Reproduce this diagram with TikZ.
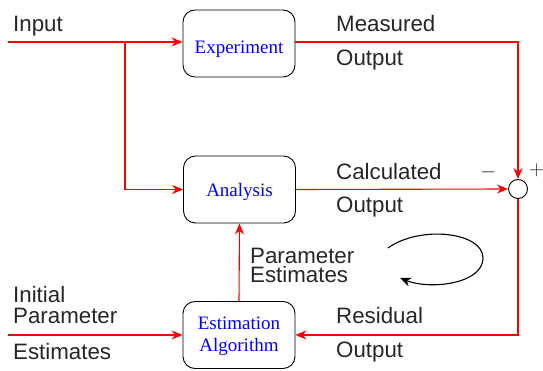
\documentclass[tikz,border=0pt]{standalone}
\usepackage{fontspec}
\setmainfont{Liberation Sans}
\newfontfamily\boxfont{Liberation Serif}
\usetikzlibrary{arrows.meta}
\begin{document}
\begin{tikzpicture}[x=1pt,y=-1pt,
  blk/.style={draw=black, line width=0.9pt, rounded corners=12pt, minimum width=112pt, minimum height=67pt, inner sep=0pt, align=center, text=blue, font=\boxfont\fontsize{19}{22}\selectfont},
  sig/.style={draw=red, line width=1.1pt, -{Stealth[length=11pt,width=9pt]}},
  lbl/.style={anchor=base west, inner sep=0pt, text=black!85, align=left, font=\fontsize{22.3}{22}\selectfont}]
\useasboundingbox (0,0) rectangle (543,371);
\node[blk] (exp) at (239,43.5) {\rule{0pt}{24pt}Experiment};
\node[blk] (ana) at (239.5,189.5) {\rule{0pt}{19pt}Analysis};
\node[blk] (est) at (239,335) {\rule{0pt}{16pt}Estimation\\Algorithm};
\node[draw=black, line width=0.9pt, circle, minimum size=19pt, inner sep=0pt, fill=white] (sum) at (518,189) {};
\coordinate (in) at (8,42);
\coordinate (br) at (125,42);
\coordinate (init) at (8,335);
\draw[sig] (in) -- (in -| exp.west);
\draw[sig] (br) |- (ana.west);
\draw[sig] (exp.east |- in) -| (sum.north);
\draw[sig] (ana.east) -- (sum.west);
\draw[sig] (sum.south) |- (est.east);
\draw[sig] (init) -- (est.west);
\draw[sig] (est.north) -- (ana.south);
\draw[line width=1.1pt, -{Stealth[length=11pt,width=9pt]}] (388,248) .. controls (420,225) and (483,232) .. (483,258) .. controls (483,284) and (430,290) .. (400,278);
\node[lbl] (t1) at (13,32) {Input};
\node[lbl] (t2) at (336,32) {Measured};
\node[lbl] (t3) at (336,66) {Output};
\node[lbl] (t4) at (336,180) {Calculated};
\node[lbl] (t5) at (336,213) {Output};
\node[lbl, font=\fontsize{22.3}{20}\selectfont] (t6) at (250,283) {Parameter\\Estimates};
\node[lbl, font=\fontsize{22.3}{21}\selectfont] (t8) at (13,323) {Initial\\Parameter};
\node[lbl] (t10) at (13,359) {Estimates};
\node[lbl] (t11) at (336,323) {Residual};
\node[lbl] (t12) at (336,357) {Output};
\node[lbl] (mi) at (480,178) {$-$};
\node[lbl] (pl) at (529,176) {$+$};
\end{tikzpicture}
\end{document}
